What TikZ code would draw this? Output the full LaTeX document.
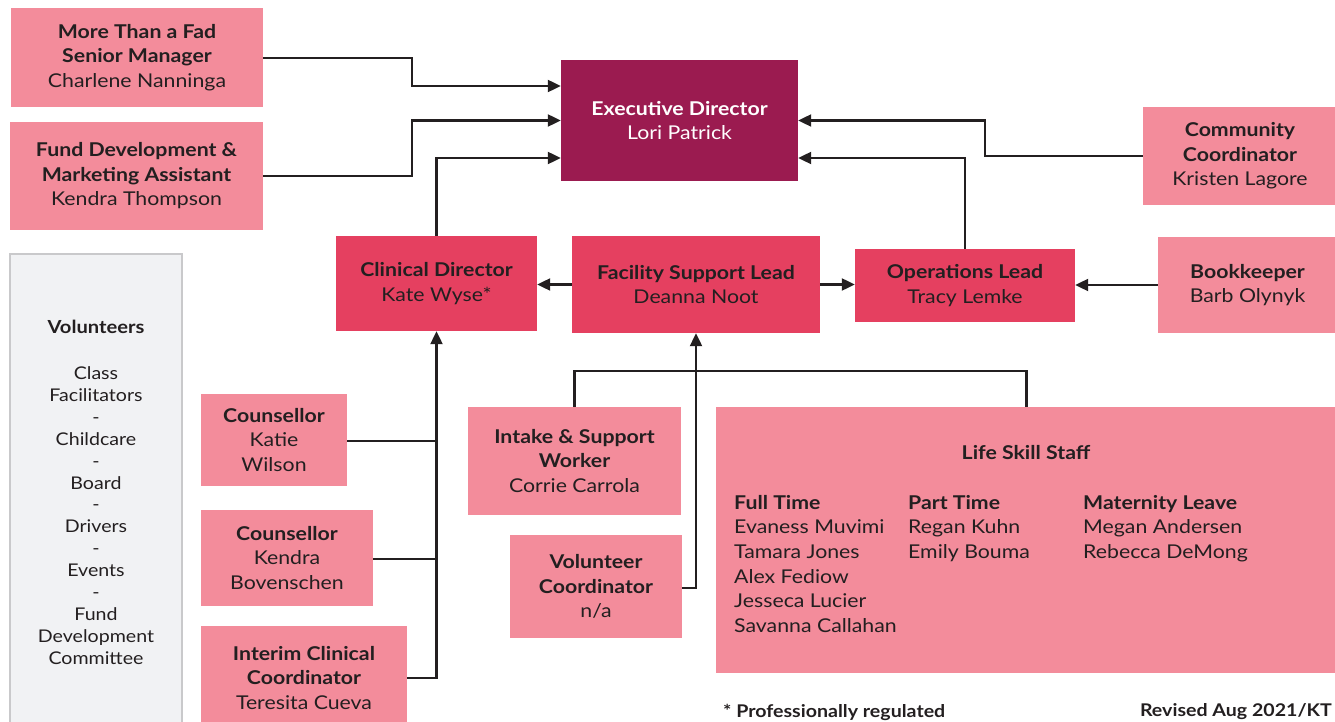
\documentclass[tikz,border=0pt]{standalone}
\usepackage{fontspec}
\setmainfont{Lato}[FakeStretch=1.12]
\usetikzlibrary{arrows.meta}
\definecolor{pinkL}{RGB}{243,140,155}
\definecolor{pinkM}{RGB}{229,64,96}
\definecolor{plum}{RGB}{155,27,80}
\definecolor{ink}{RGB}{35,31,32}
\definecolor{volfill}{RGB}{241,242,244}
\definecolor{volline}{RGB}{201,201,203}
\tikzset{
  lbox/.style={fill=pinkL, inner sep=0pt, align=center, text=ink, font=\fontsize{19}{24.5}\selectfont},
  mbox/.style={fill=pinkM, inner sep=0pt, align=center, text=ink, font=\fontsize{19}{24.5}\selectfont},
  ebox/.style={fill=plum, inner sep=0pt, align=center, text=white, font=\fontsize{19}{24.5}\selectfont},
  conn/.style={draw=ink, line width=2.2pt},
  arr/.style={conn, -{Triangle[length=13pt,width=12pt]}},
  txt/.style={inner sep=0pt, text=ink, font=\fontsize{19}{24.6}\selectfont}
}
\begin{document}
\begin{tikzpicture}[x=1pt,y=-1pt]
\useasboundingbox (0,0) rectangle (1335,722);
% boxes
\node[lbox, minimum width=252pt, minimum height=99pt] (mtaf) at (137,57.5) {\textbf{More Than a Fad}\\\textbf{Senior Manager}\\Charlene Nanninga};
\node[lbox, minimum width=253pt, minimum height=108pt] (fund) at (136.5,176) {\textbf{Fund Development \&}\\\textbf{Marketing Assistant}\\Kendra Thompson};
\node[ebox, minimum width=237pt, minimum height=121pt] (exec) at (679.5,120.5) {\textbf{Executive Director}\\Lori Patrick};
\node[lbox, minimum width=194pt, minimum height=98pt] (comm) at (1240,156) {\textbf{Community}\\\textbf{Coordinator}\\Kristen Lagore};
\node[lbox, minimum width=179pt, minimum height=96pt] (book) at (1247.5,285) {\textbf{Bookkeeper}\\Barb Olynyk};
\node[mbox, minimum width=201pt, minimum height=95pt] (clin) at (436.5,283.5) {\textbf{Clinical Director}\\Kate Wyse*};
\node[mbox, minimum width=248pt, minimum height=97pt] (fac) at (696,284.5) {\textbf{Facility Support Lead}\\Deanna Noot};
\node[mbox, minimum width=220pt, minimum height=73pt] (ops) at (965,285.5) {\textbf{Operations Lead}\\Tracy Lemke};
\node[fill=volfill, draw=volline, line width=1.5pt, inner sep=0pt, minimum width=172pt, minimum height=481pt] (vol) at (96,494.5) {};
\node[txt, font=\fontsize{18}{22}\selectfont\bfseries] (voltitle) at (96,327) {Volunteers};
\node[txt, align=center, font=\fontsize{17.5}{21.9}\selectfont] (voltxt) at (96,515.5) {Class\\Facilitators\\-\\Childcare\\-\\Board\\-\\Drivers\\-\\Events\\-\\Fund\\Development\\Committee};
\node[lbox, minimum width=146pt, minimum height=92pt] (katie) at (274,440) {\textbf{Counsellor}\\Katie\\Wilson};
\node[lbox, minimum width=172pt, minimum height=96pt] (kendra) at (287,558) {\textbf{Counsellor}\\Kendra\\Bovenschen};
\node[lbox, minimum width=206pt, minimum height=104pt] (icc) at (304,678) {\textbf{Interim Clinical}\\\textbf{Coordinator}\\Teresita Cueva};
\node[lbox, minimum width=213pt, minimum height=108pt] (intake) at (574.5,461) {\textbf{Intake \& Support}\\\textbf{Worker}\\Corrie Carrola};
\node[lbox, minimum width=172pt, minimum height=103pt] (vc) at (596,586.5) {\textbf{Volunteer}\\\textbf{Coordinator}\\n/a};
\node[lbox, minimum width=621pt, minimum height=266pt] (life) at (1026.5,540) {};
\node[txt, font=\fontsize{19}{24.6}\selectfont\bfseries] (lifet) at (1026,453) {Life Skill Staff};
\node[txt, align=left, anchor=north west] (colft) at (734,495) {\textbf{Full Time}\\Evaness Muvimi\\Tamara Jones\\Alex Fediow\\Jesseca Lucier\\Savanna Callahan};
\node[txt, align=left, anchor=north west] (colpt) at (908,495) {\textbf{Part Time}\\Regan Kuhn\\Emily Bouma};
\node[txt, align=left, anchor=north west] (colml) at (1083,495) {\textbf{Maternity Leave}\\Megan Andersen\\Rebecca DeMong};
% footer
\node[txt, anchor=west, font=\fontsize{17.5}{20}\selectfont\bfseries] (fn) at (723,712) {* Professionally regulated};
\node[txt, anchor=east, font=\fontsize{17.5}{20}\selectfont\bfseries] (rev) at (1332,712) {Revised Aug 2021/KT};
% connectors
\draw[arr] (mtaf.east |- 0,58) -- ++(149,0) |- (exec.west |- 0,86);
\draw[arr] (fund.east |- 0,176) -- ++(149,0) |- (exec.west);
\draw[arr] (clin.north) |- (exec.west |- 0,158);
\draw[arr] (comm.west |- 0,156) -- ++(-158,0) |- (exec.east);
\draw[arr] (ops.north) |- (exec.east |- 0,158);
\draw[arr] (fac.west) -- (clin.east |- fac.west);
\draw[arr] (fac.east) -- (ops.west |- fac.east);
\draw[arr] (book.west) -- (ops.east |- book.west);
\draw[arr] (icc.east |- 0,678) -- (clin.south |- 0,678) -- (clin.south);
\draw[conn] (katie.east |- 0,441) -- (clin.south |- 0,441);
\draw[conn] (kendra.east |- 0,559) -- (clin.south |- 0,559);
\draw[arr] (vc.east |- 0,588) -| (fac.south);
\draw[conn] (intake.north) -- ++(0,-36) -| (life.north);
\end{tikzpicture}
\end{document}
